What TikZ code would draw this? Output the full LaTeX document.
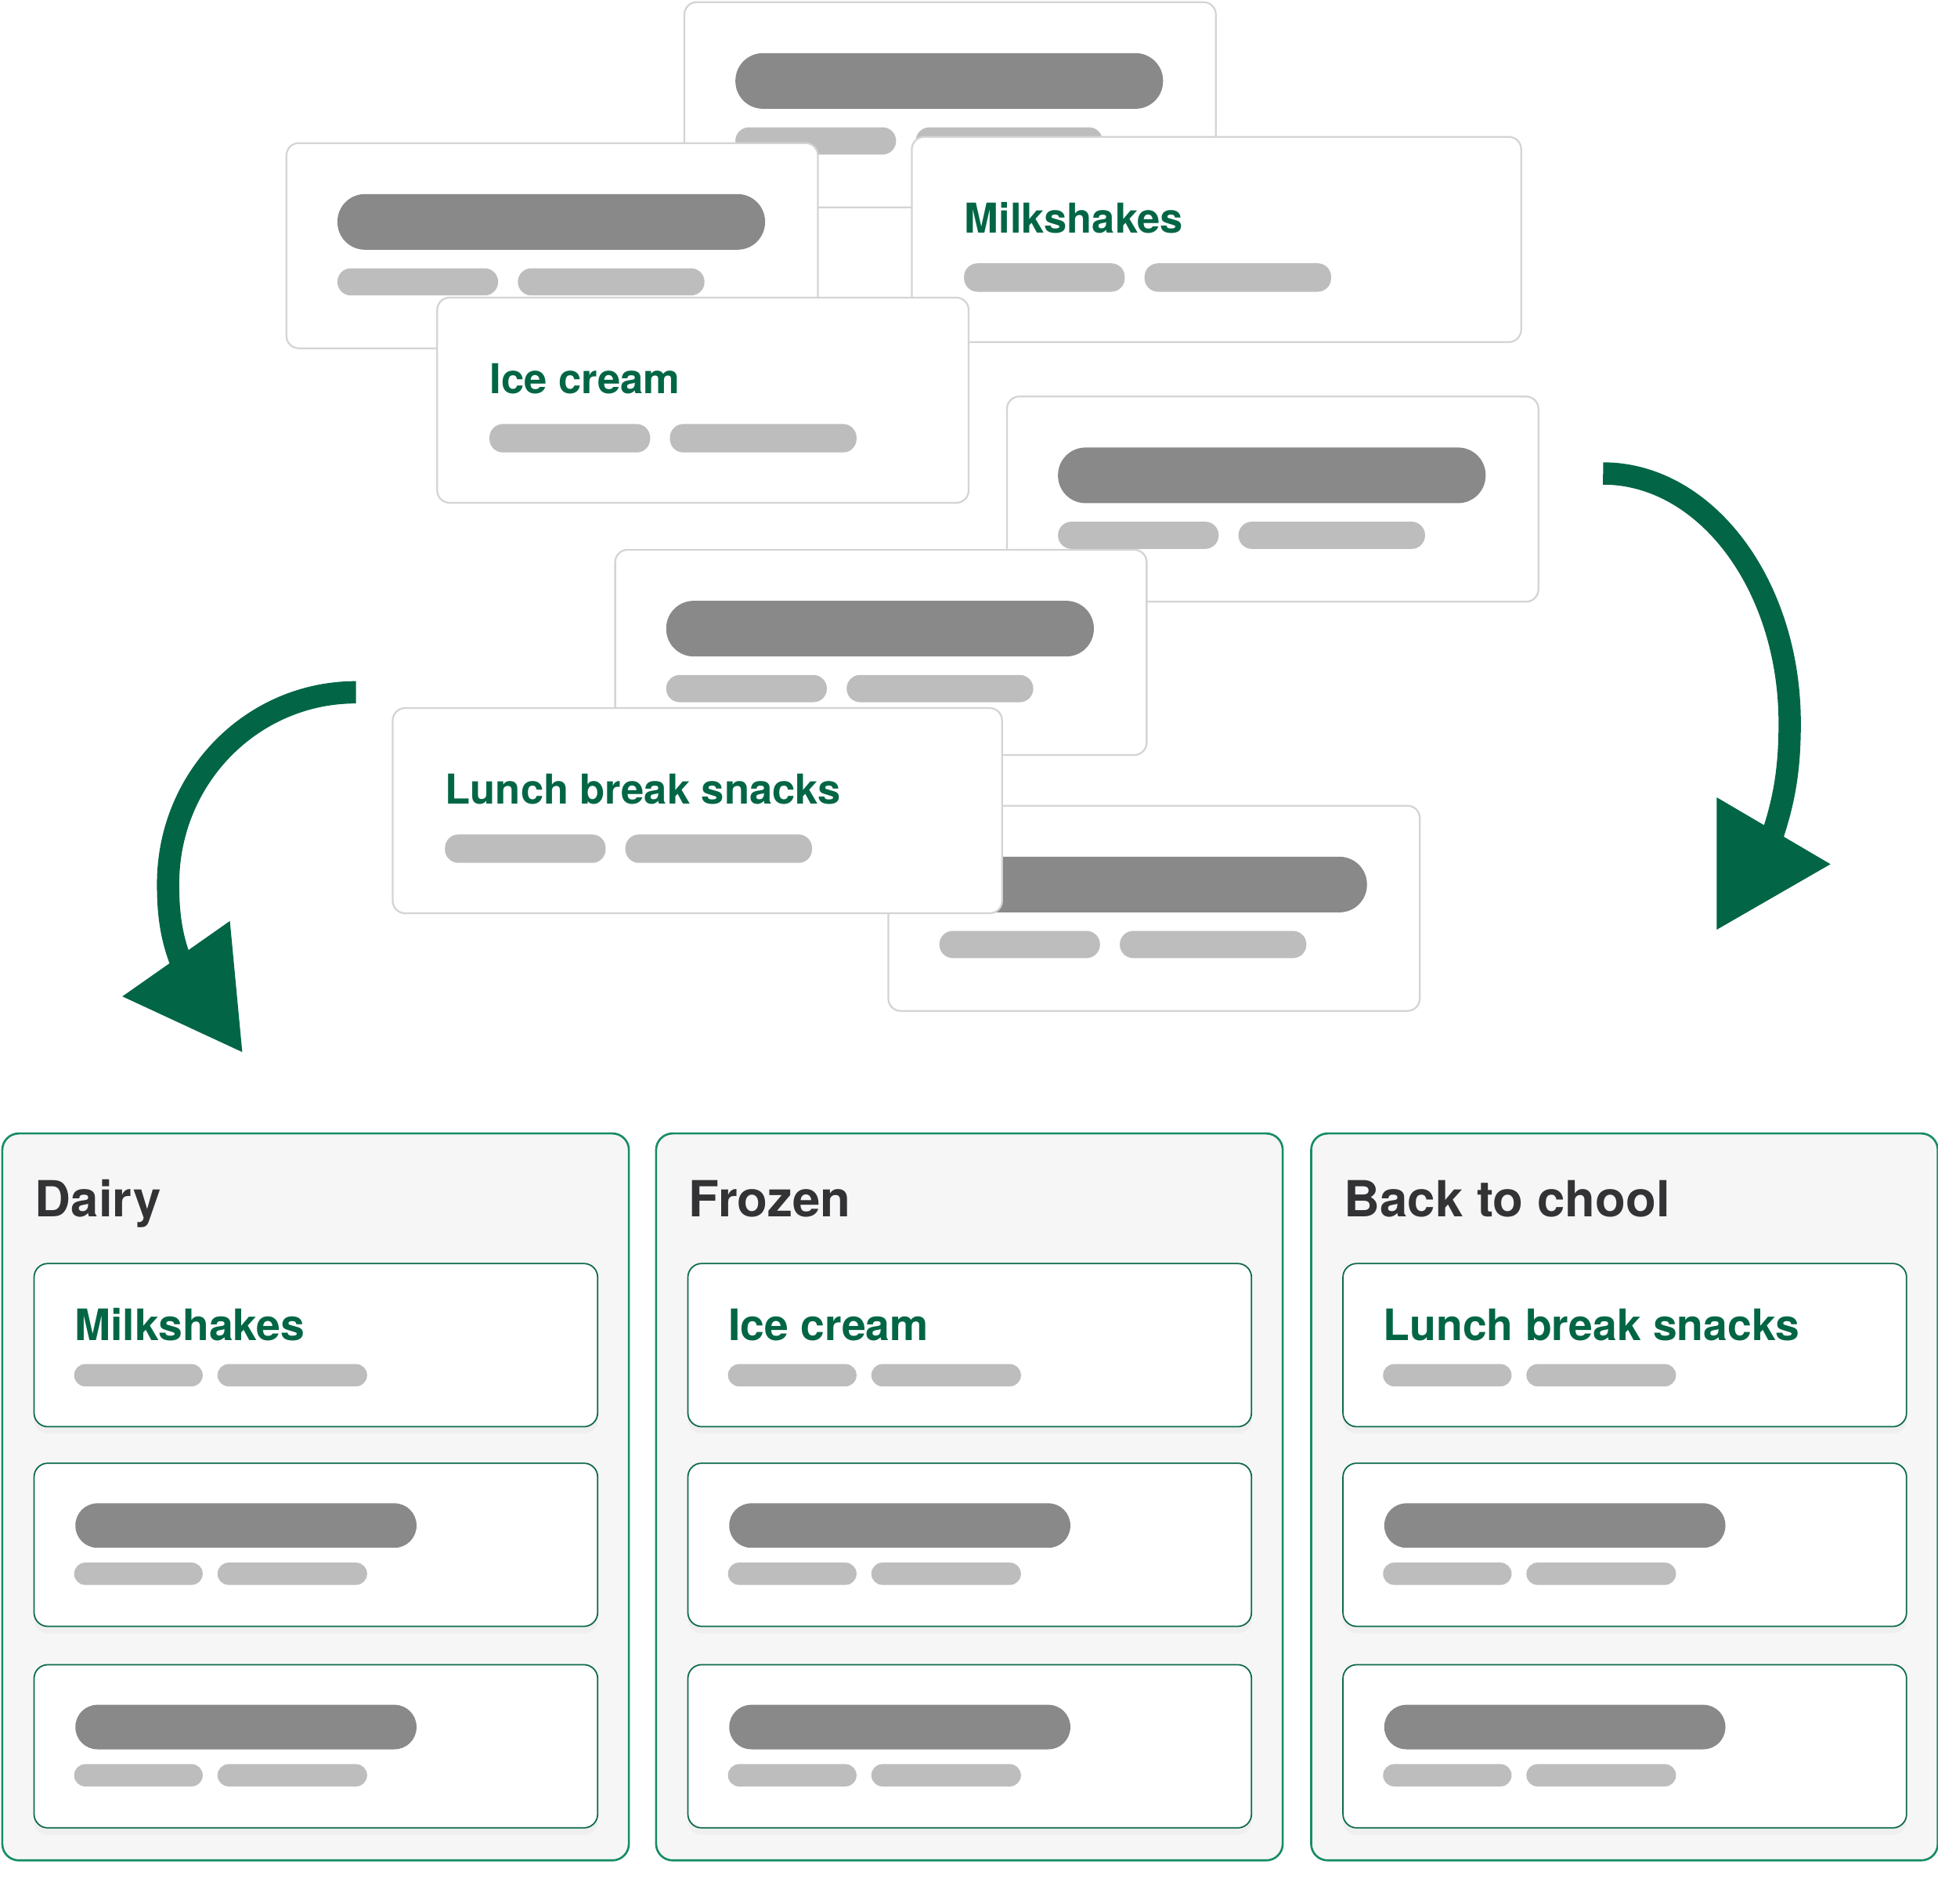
\documentclass[tikz,border=0pt]{standalone}
\usepackage{fontspec}
\setmainfont{TeX Gyre Heros}
\usetikzlibrary{shadows}

\definecolor{leaf}{RGB}{2,102,70}
\definecolor{colline}{RGB}{22,140,100}
\definecolor{itemline}{RGB}{12,105,74}
\definecolor{cardgray}{RGB}{212,212,212}
\definecolor{barDark}{RGB}{137,137,137}
\definecolor{barLight}{RGB}{189,189,189}
\definecolor{colfill}{RGB}{246,246,246}
\definecolor{headgray}{RGB}{51,51,54}

\newcommand{\pxu}{0.015784cm}

\begin{document}
\begin{tikzpicture}[x=0.015784cm, y=-0.015784cm,
  topcard/.style={draw=cardgray, line width=0.65pt, fill=white, rounded corners=4.5pt,
    anchor=north west, inner sep=0, minimum height=166*\pxu},
  column/.style={draw=colline, line width=0.75pt, fill=colfill, rounded corners=6pt,
    anchor=north west, inner sep=0, minimum width=507*\pxu, minimum height=588*\pxu},
  listcard/.style={draw=itemline, line width=0.5pt, fill=white, rounded corners=5pt,
    anchor=north west, inner sep=0, minimum width=456*\pxu, minimum height=132*\pxu,
    drop shadow={opacity=0.06, shadow xshift=0pt, shadow yshift=-2.5pt}},
  darkbar/.style={fill=barDark, rounded corners=10pt},
  lightbar/.style={fill=barLight, rounded corners=4.9pt},
  smalldark/.style={fill=barDark, rounded corners=8pt},
  smalllight/.style={fill=barLight, rounded corners=4pt},
  cardtitle/.style={anchor=base west, inner sep=0, text=leaf,
    font=\fontsize{14.94pt}{17pt}\selectfont\bfseries},
  itemtitle/.style={anchor=base west, inner sep=0, text=leaf,
    font=\fontsize{15.73pt}{18pt}\selectfont\bfseries},
  coltitle/.style={anchor=base west, inner sep=0, text=headgray,
    font=\fontsize{18.07pt}{20pt}\selectfont\bfseries},
  flow/.style={draw=leaf, line width=8.1pt},
  tip/.style={fill=leaf}]

  \useasboundingbox (0,0) rectangle (1568,1540);

  % Loose cards without a title
  \foreach \n/\x/\y in {A/553/1, B/231/115, E/814/320, F/497/444, G/718/651} {
    \node[topcard, minimum width=430*\pxu] (card\n) at (\x,\y) {};
    \fill[darkbar] (\x+42,\y+42) rectangle ++(346,45);
    \fill[lightbar] (\x+42,\y+102) rectangle ++(130,22);
    \fill[lightbar] (\x+188,\y+102) rectangle ++(151,22);
  }

  % Loose cards with a title
  \foreach \n/\x/\y/\w/\t in {C/737/110/493/Milkshakes, D/353/240/430/Ice cream,
      H/317/572/493/Lunch break snacks} {
    \node[topcard, minimum width=\w*\pxu] (card\n) at (\x,\y) {};
    \node[cardtitle] (label\n) at (\x+43,\y+78.5) {\t};
    \fill[lightbar] (\x+43,\y+103) rectangle ++(130,23);
    \fill[lightbar] (\x+189,\y+103) rectangle ++(151,23);
  }

  % Sorting arrows
  \coordinate (rstart) at (1297,383);
  \coordinate (lstart) at (288,560);
  \draw[flow] (rstart) .. controls (1380,383) and (1448,473) .. (1448,585)
    .. controls (1448,625) and (1443,650) .. (1432,682);
  \fill[tip] (1389,645) -- (1481,699) -- (1389,752) -- cycle;
  \draw[flow] (lstart) .. controls (204,560) and (136,629) .. (136,715)
    .. controls (136,742) and (139,762) .. (150,787);
  \fill[tip] (99,806) -- (186,745) -- (196,851) -- cycle;

  % Columns
  \foreach \i/\x/\t/\c in {1/1/Dairy/Milkshakes, 2/530/Frozen/Ice cream, 3/1060/Back to chool/Lunch break snacks} {
    \node[column] (col\i) at (\x,916) {};
    \node[coltitle] (head\i) at (\x+27,984) {\t};
    \foreach \j/\y in {1/1021.5, 2/1183, 3/1346}
      \node[listcard] (item\i\j) at (\x+26,\y) {};
    \node[itemtitle] (name\i) at (\x+59,1084.4) {\c};
    \fill[smalllight] (\x+59,1103.4) rectangle ++(104,18);
    \fill[smalllight] (\x+175,1103.4) rectangle ++(121,18);
    \foreach \y in {1183,1346} {
      \fill[smalldark] (\x+60,\y+33) rectangle ++(276,36);
      \fill[smalllight] (\x+59,\y+81) rectangle ++(104,18);
      \fill[smalllight] (\x+175,\y+81) rectangle ++(121,18);
    }
  }

\end{tikzpicture}
\end{document}
